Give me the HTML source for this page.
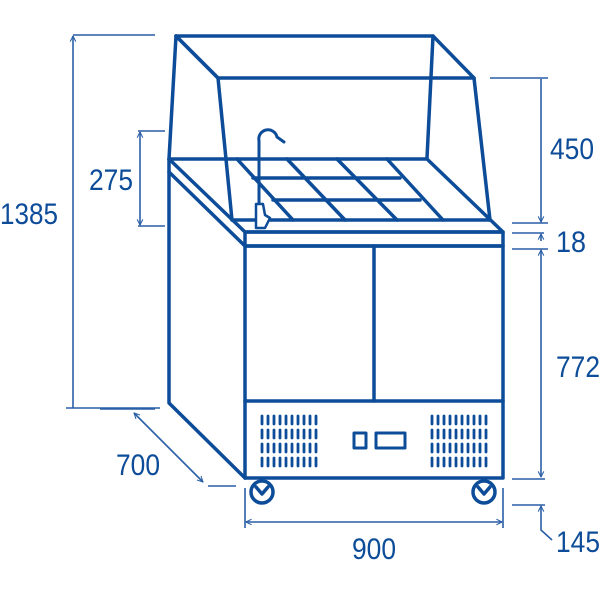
<!DOCTYPE html>
<html><head><meta charset="utf-8"><style>html,body{margin:0;padding:0;background:#fff}svg{display:block}</style></head>
<body>
<svg width="600" height="600" viewBox="0 0 600 600" xmlns="http://www.w3.org/2000/svg">
<defs>
<marker id="a" viewBox="0 0 10 10" refX="9" refY="5" markerWidth="7" markerHeight="7" orient="auto-start-reverse" markerUnits="userSpaceOnUse"><path d="M1,1 L9,5 L1,9" fill="none" stroke="#2a5fa6" stroke-width="1.5"/></marker>
</defs>
<g fill="none" stroke="#0d4c98" stroke-width="3.5" stroke-linejoin="round" stroke-linecap="round">
<path d="M176,36 L433,36 L474,78 L218,78 Z"/>
<line x1="176" y1="36" x2="218" y2="78"/>
<line x1="176" y1="36" x2="169" y2="159"/>
<line x1="433" y1="36" x2="427" y2="158"/>
<line x1="218" y1="78" x2="232" y2="220"/>
<line x1="474" y1="78" x2="490" y2="220"/>
<path d="M169,159 L427,159 L503,232 L245,232 Z"/>
<line x1="169" y1="172" x2="245" y2="246"/>
<line x1="232" y1="220" x2="490" y2="220"/>
<line x1="253" y1="178" x2="400" y2="178"/>
<line x1="273" y1="200" x2="420" y2="200"/>
<line x1="237" y1="159" x2="293" y2="220"/>
<line x1="287" y1="159" x2="345" y2="220"/>
<line x1="337" y1="159" x2="397" y2="220"/>
<line x1="387" y1="159" x2="443" y2="220"/>
<rect x="245" y="232" width="258" height="14"/>
<path d="M169,159 L169,403 L245,478"/>
<rect x="245" y="246" width="258" height="232"/>
<line x1="374" y1="246" x2="374" y2="401"/>
<line x1="245" y1="401" x2="503" y2="401"/>
<rect x="354" y="433" width="12" height="15" stroke-width="3"/>
<rect x="376" y="433" width="29" height="15" stroke-width="3"/>
<circle cx="262" cy="492" r="11"/>
<path d="M256,487 L262,494 L268,487"/>
<circle cx="484" cy="492" r="11"/>
<path d="M478,487 L484,494 L490,487"/>
</g>
<g fill="none" stroke="#0d4c98" stroke-width="3" stroke-linecap="round">
<path d="M259,205 L259,141 A9,9 0 0 1 277,137 L284,142"/>
</g>
<path d="M256,204 L263,204 L265,215 L270,218 L265,228 L256,228 Z" fill="#fff" stroke="#0d4c98" stroke-width="2.5" stroke-linejoin="round"/>
<g stroke="#0d4c98" stroke-width="2.8" stroke-linecap="round">
<path id="v" d="M262,416v8M268,416v8M274,416v8M280,416v8M286,416v8M292,416v8M298,416v8M304,416v8M310,416v8M316,416v8"/>
<use href="#v" y="14"/><use href="#v" y="28"/><use href="#v" y="42"/>
<use href="#v" x="170"/><use href="#v" x="170" y="14"/><use href="#v" x="170" y="28"/><use href="#v" x="170" y="42"/>
</g>
<g stroke="#2a5fa6" stroke-width="1.6" fill="none">
<line x1="73" y1="35" x2="155" y2="35"/>
<line x1="73" y1="36" x2="73" y2="408" marker-start="url(#a)"/>
<line x1="66" y1="408" x2="160" y2="408"/>
<line x1="138" y1="131" x2="165" y2="131"/>
<line x1="138" y1="226" x2="165" y2="226"/>
<line x1="140" y1="132" x2="140" y2="225" marker-start="url(#a)" marker-end="url(#a)"/>
<line x1="490" y1="78" x2="548" y2="78"/>
<line x1="541" y1="79" x2="541" y2="222" marker-end="url(#a)"/>
<line x1="512" y1="223" x2="548" y2="223"/>
<line x1="512" y1="233" x2="544" y2="233"/>
<line x1="512" y1="249" x2="548" y2="249"/>
<line x1="541" y1="241" x2="541" y2="234" marker-end="url(#a)"/>
<line x1="541" y1="250" x2="541" y2="477" marker-start="url(#a)" marker-end="url(#a)"/>
<line x1="512" y1="479" x2="545" y2="479"/>
<line x1="512" y1="505" x2="545" y2="505"/>
<path d="M552,540 L541,530 L541,506" marker-end="url(#a)"/>
<line x1="100" y1="409" x2="155" y2="409"/>
<line x1="208" y1="486" x2="236" y2="486"/>
<line x1="134" y1="413" x2="203" y2="482" marker-start="url(#a)" marker-end="url(#a)"/>
<line x1="245" y1="488" x2="245" y2="528"/>
<line x1="503" y1="488" x2="503" y2="528"/>
<line x1="246" y1="522" x2="502" y2="522" marker-start="url(#a)" marker-end="url(#a)"/>
</g>
<g fill="#0d4c98" font-family="'Liberation Sans Narrow','Liberation Sans',sans-serif" font-size="30">
<text x="0" y="224" textLength="58" lengthAdjust="spacingAndGlyphs">1385</text>
<text x="89" y="190" textLength="44" lengthAdjust="spacingAndGlyphs">275</text>
<text x="550" y="159" textLength="44" lengthAdjust="spacingAndGlyphs">450</text>
<text x="556" y="252" textLength="30" lengthAdjust="spacingAndGlyphs">18</text>
<text x="556" y="377" textLength="44" lengthAdjust="spacingAndGlyphs">772</text>
<text x="556" y="552" textLength="44" lengthAdjust="spacingAndGlyphs">145</text>
<text x="116" y="475" textLength="44" lengthAdjust="spacingAndGlyphs">700</text>
<text x="352" y="559" textLength="44" lengthAdjust="spacingAndGlyphs">900</text>
</g>
</svg>
</body></html>
